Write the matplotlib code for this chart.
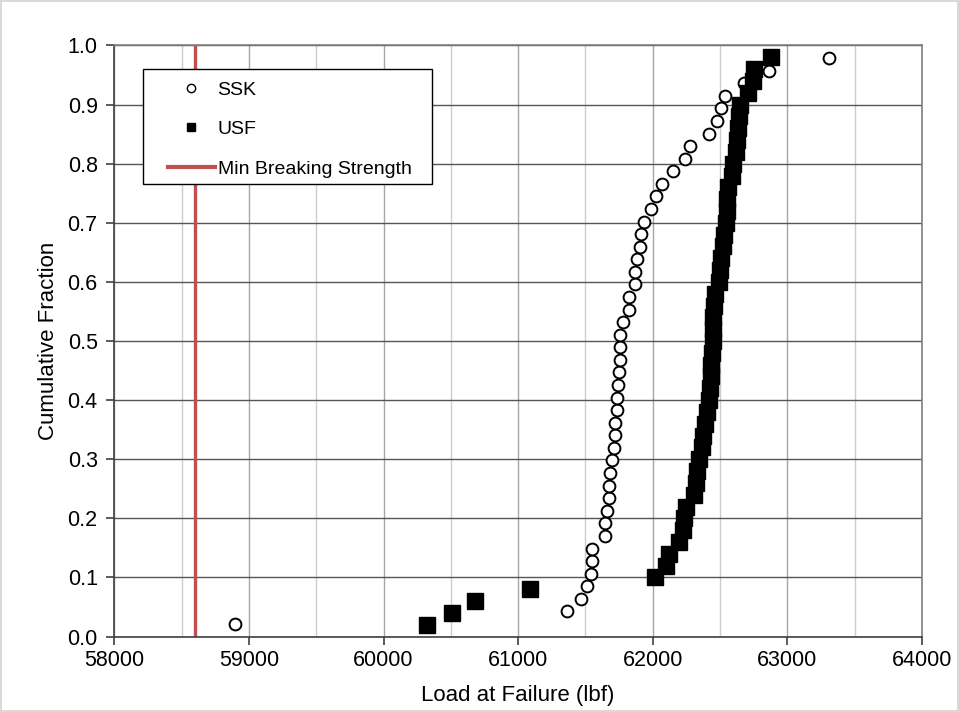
import matplotlib
matplotlib.use("Agg")
import matplotlib.pyplot as plt
from matplotlib.lines import Line2D
from matplotlib.patches import Rectangle
from matplotlib.ticker import MultipleLocator, FormatStrFormatter

plt.rcParams['font.family'] = ['Liberation Sans', 'DejaVu Sans']

# load at failure (lbf), sorted
ssk_load = [58900, 61365, 61470, 61515, 61540, 61545, 61550, 61645, 61645, 61660,
            61675, 61675, 61685, 61700, 61710, 61720, 61720, 61735, 61735, 61745,
            61750, 61760, 61760, 61760, 61780, 61825, 61825, 61865, 61865, 61880,
            61905, 61910, 61935, 61985, 62025, 62070, 62150, 62240, 62275, 62420,
            62480, 62510, 62540, 62675, 62865, 63310]
usf_load = [60321, 60507, 60680, 61089, 62015, 62097, 62122, 62196, 62221, 62229,
            62246, 62308, 62320, 62330, 62342, 62365, 62375, 62390, 62400, 62415,
            62425, 62430, 62435, 62440, 62445, 62447, 62450, 62455, 62460, 62490,
            62500, 62505, 62520, 62530, 62545, 62548, 62555, 62560, 62590, 62595,
            62620, 62625, 62630, 62640, 62645, 62705, 62745, 62750, 62880]
min_breaking = 58600

ssk_frac = [(i + 1) / (len(ssk_load) + 1) for i in range(len(ssk_load))]
usf_frac = [(i + 1) / (len(usf_load) + 1) for i in range(len(usf_load))]

fig = plt.figure(figsize=(9.59, 7.12), dpi=100)
fig.patch.set_edgecolor('#d9d9d9')
fig.patch.set_linewidth(1.5)
ax = fig.add_axes([0.1192, 0.106, 0.8422, 0.8301])

ax.set_xlim(58000, 64000)
ax.set_ylim(0, 1.0)
ax.xaxis.set_major_locator(MultipleLocator(1000))
ax.xaxis.set_minor_locator(MultipleLocator(500))
ax.yaxis.set_major_locator(MultipleLocator(0.1))
ax.yaxis.set_major_formatter(FormatStrFormatter('%.1f'))

ax.grid(True, axis='y', which='major', color='#555555', lw=1.0)
ax.grid(True, axis='x', which='major', color='#a6a6a6', lw=1.0)
ax.grid(True, axis='x', which='minor', color='#cccccc', lw=1.0)
ax.set_axisbelow(True)

for s in ax.spines.values():
    s.set_color('#808080')
    s.set_linewidth(1.2)
ax.spines['left'].set_color('#404040')
ax.spines['bottom'].set_color('#404040')

ax.tick_params(axis='both', which='major', direction='out', length=6,
               width=1.2, color='#404040', labelsize=15.5)
ax.tick_params(axis='y', pad=6)
ax.tick_params(axis='x', pad=4)
ax.tick_params(axis='x', which='minor', length=0)

ax.axvline(min_breaking, color='#c0504d', lw=2.4, zorder=2)
ax.plot(ssk_load, ssk_frac, 'o', ms=8.5, mfc='white', mec='black', mew=1.4,
        ls='none', zorder=3)
ax.plot(usf_load, usf_frac, 's', ms=11, mfc='black', mec='black',
        ls='none', zorder=4)

ax.set_xlabel('Load at Failure (lbf)', fontsize=16, labelpad=10)
ax.set_ylabel('Cumulative Fraction', fontsize=16, labelpad=6)

# legend box
ax.add_patch(Rectangle((0.0355, 0.7657), 0.3578, 0.1945, transform=ax.transAxes,
                       facecolor='white', edgecolor='black', lw=1.0, zorder=5))
handles = [
    Line2D([], [], marker='o', ls='none', ms=6, mfc='white', mec='black', mew=1),
    Line2D([], [], marker='s', ls='none', ms=6, mfc='black', mec='black'),
    Line2D([], [], color='#c0504d', lw=3),
]
leg = ax.legend(handles, ['SSK', 'USF', 'Min Breaking Strength'],
                loc='upper left', bbox_to_anchor=(0.0665, 0.9395),
                borderaxespad=0, borderpad=0, fontsize=14, frameon=False,
                handlelength=2.4, handletextpad=0.15, labelspacing=1.12)
leg.set_zorder(6)

fig.savefig('out.png', dpi=100)
